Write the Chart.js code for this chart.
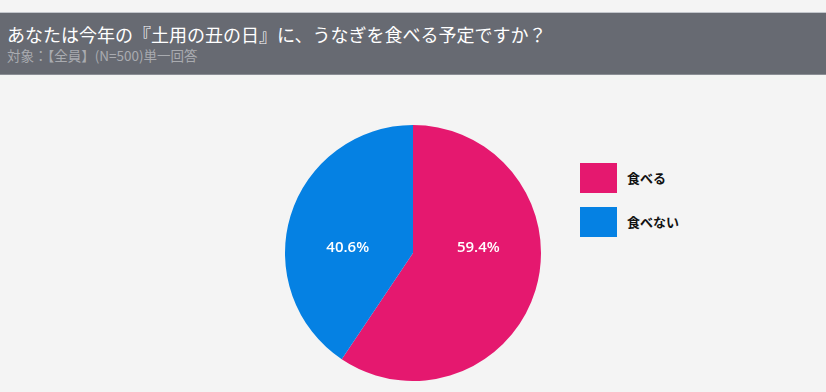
<!DOCTYPE html>
<html>
<head>
<meta charset="utf-8">
<script src="https://cdn.jsdelivr.net/npm/chart.js@4"></script>
<style>
  html, body { margin: 0; padding: 0; }
  body { width: 826px; height: 392px; background: #f4f4f4; position: relative; overflow: hidden; font-family: "Noto Sans CJK JP", sans-serif; }
  #header { position: absolute; left: 0; top: 12px; width: 826px; height: 61px; background: #676a72; border-top: 1px solid #c3c6cc; border-bottom: 1px solid #8b8e95; }
  #title { position: absolute; left: 7px; top: 12px; font-size: 18px; line-height: 18px; color: #ffffff; white-space: nowrap; letter-spacing: 0px; }
  #subtitle { position: absolute; left: 7px; top: 36px; font-size: 13.5px; line-height: 13px; color: #a9abb0; white-space: nowrap; }
  #wrap { position: absolute; left: 285px; top: 125px; width: 256px; height: 256px; }
  #legend { position: absolute; left: 580px; top: 163px; }
  .item { position: relative; height: 30px; margin-bottom: 14px; }
  .box { position: absolute; left: 0; top: 0; width: 37px; height: 30px; }
  .lab { position: absolute; left: 47px; top: 0; line-height: 30px; font-size: 13px; font-weight: bold; color: #111; white-space: nowrap; }
</style>
</head>
<body>
<div id="header">
  <div id="title">あなたは今年の『土用の丑の日』に、うなぎを食べる予定ですか？</div>
  <div id="subtitle">対象：【全員】(N=500)単一回答</div>
</div>
<div id="wrap"><canvas id="c" width="256" height="256"></canvas></div>
<div id="legend"></div>
<script>
const categories = ['食べる', '食べない'];
const values = [59.4, 40.6];
const colors = ['#e5186f', '#0581e3'];

const legend = document.getElementById('legend');
categories.forEach((name, i) => {
  const it = document.createElement('div');
  it.className = 'item';
  const b = document.createElement('div');
  b.className = 'box';
  b.style.background = colors[i];
  const l = document.createElement('div');
  l.className = 'lab';
  l.textContent = name;
  it.appendChild(b); it.appendChild(l);
  legend.appendChild(it);
});

const sliceLabels = {
  id: 'sliceLabels',
  afterDatasetsDraw(chart) {
    const ctx = chart.ctx;
    const meta = chart.getDatasetMeta(0);
    ctx.save();
    ctx.fillStyle = '#ffffff';
    ctx.font = '600 15px "Open Sans", sans-serif';
    ctx.textAlign = 'center';
    ctx.textBaseline = 'middle';
    meta.data.forEach((arc, i) => {
      const p = arc.getProps(['x', 'y', 'startAngle', 'endAngle', 'outerRadius'], true);
      const mid = (p.startAngle + p.endAngle) / 2;
      const side = Math.cos(mid) >= 0 ? 1 : -1;
      const x = p.x + side * p.outerRadius * 0.51;
      const y = p.y - p.outerRadius * 0.04;
      ctx.fillText(values[i].toFixed(1) + '%', x, y);
    });
    ctx.restore();
  }
};

new Chart(document.getElementById('c'), {
  type: 'pie',
  data: {
    labels: categories,
    datasets: [{
      data: values,
      backgroundColor: colors,
      borderWidth: 0,
      hoverOffset: 0
    }]
  },
  options: {
    responsive: false,
    animation: false,
    layout: { padding: 0 },
    plugins: {
      legend: { display: false },
      title: { display: false },
      tooltip: { enabled: false }
    }
  },
  plugins: [sliceLabels]
});
</script>
</body>
</html>
